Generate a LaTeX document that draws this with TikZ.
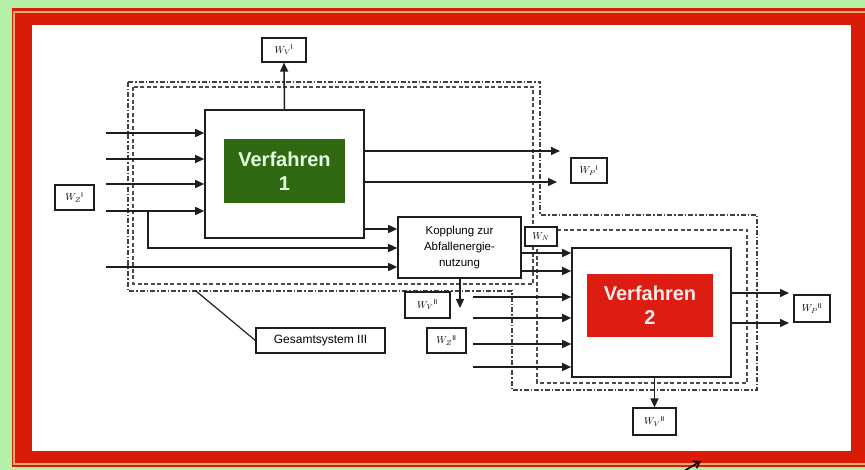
\documentclass[tikz,border=0pt]{standalone}
\usepackage{fontspec}
\setmainfont{Liberation Sans}
\usetikzlibrary{arrows.meta,calc}
\definecolor{bggreen}{HTML}{B4F0A8}
\definecolor{framered}{HTML}{D81C08}
\definecolor{frametan}{HTML}{E8A878}
\definecolor{vgreen}{HTML}{2F6A12}
\definecolor{vred}{HTML}{DD1C12}
\definecolor{linec}{HTML}{1E1E1E}
\tikzset{
  box/.style={draw=linec,line width=1.6pt,fill=white,inner sep=0pt},
  lab/.style={box,line width=1.2pt,font=\fontsize{10}{12}\selectfont},
  arr/.style={draw=linec,line width=1.5pt,-{Triangle[length=9pt,width=8pt]}},
  plain/.style={draw=linec,line width=1.5pt},
  sysdash/.style={draw=linec!80,line width=1.2pt,dash pattern=on 4pt off 2.5pt},
  sysdashdot/.style={draw=linec!85,line width=1.3pt,dash pattern=on 5pt off 2pt on 1.5pt off 2pt},
  vtext/.style={font=\fontsize{20}{24}\selectfont\bfseries,align=center,inner sep=0pt}
}
\begin{document}
\begin{tikzpicture}[x=1pt,y=-1pt]
\useasboundingbox (0,0) rectangle (865,470);
% background and frame
\fill[bggreen] (0,0) rectangle (865,470);
\fill[framered] (12,8) rectangle (865,467);
\draw[frametan,line width=1.2pt] (14,12) rectangle (866,464);
\fill[white] (32,25) rectangle (851,451);

% system boundaries
\draw[sysdash] (133,87) rectangle (533,284);
\draw[sysdash] (537,230) rectangle (747,383);
\draw[sysdashdot] (128,82) -- (540,82) -- (540,215) -- (757,215) -- (757,390)
  -- (512,390) -- (512,291) -- (128,291) -- cycle;
\coordinate (gpt) at (196,291);

% main boxes
\node[box,minimum width=159pt,minimum height=128pt] (v1) at (284.5,174) {};
\node[fill=vgreen,minimum width=121pt,minimum height=64pt,inner sep=0pt] (v1in) at (284.5,171) {};
\node[vtext,text=green!10!white] (v1t) at (284.5,171) {Verfahren\\1};

\node[box,minimum width=123pt,minimum height=61pt,align=center,
  font=\fontsize{11.5}{16}\selectfont] (kop) at (459.5,247.5)
  {Kopplung zur\\Abfallenergie-\\nutzung};

\node[box,minimum width=159pt,minimum height=129pt] (v2) at (651.5,312.5) {};
\node[fill=vred,minimum width=126pt,minimum height=63pt,inner sep=0pt] (v2in) at (650,305.5) {};
\node[vtext,text=red!8!white] (v2t) at (650,305.5) {Verfahren\\2};

% labels
\node[lab,minimum width=44pt,minimum height=24pt] (wv1) at (284,50) {$W_V{}^{\mathrm{I}}$};
\node[lab,minimum width=39pt,minimum height=25pt] (wz1) at (74.5,197.5) {$W_Z{}^{\mathrm{I}}$};
\node[lab,minimum width=36pt,minimum height=25pt] (wp1) at (589,170.5) {$W_P{}^{\mathrm{I}}$};
\node[lab,minimum width=32pt,minimum height=19pt] (wn) at (541,236.5) {$W_N$};
\node[lab,minimum width=45pt,minimum height=26pt] (wv2a) at (427.5,305) {$W_V{}^{\mathrm{II}}$};
\node[lab,minimum width=39pt,minimum height=25pt] (wz2) at (446.5,340.5) {$W_Z{}^{\mathrm{II}}$};
\node[lab,minimum width=36pt,minimum height=27pt] (wp2) at (812,308.5) {$W_P{}^{\mathrm{II}}$};
\node[lab,minimum width=43pt,minimum height=27pt] (wv2b) at (654.5,421.5) {$W_V{}^{\mathrm{II}}$};
\node[lab,minimum width=129pt,minimum height=25pt,font=\fontsize{12}{14}\selectfont] (ges) at (320.5,340.5) {Gesamtsystem III};

% leader line
\draw[plain,line width=1.2pt] (gpt) -- (ges.west);

% Verfahren 1 connectors
\draw[arr] (v1.north) -- (wv1.south);
\foreach \y [count=\i] in {133,159,184,211}{
  \coordinate (in\i) at (106,\y);
  \draw[arr] (in\i) -- (in\i -| v1.west);
}
\coordinate (br) at (148,211);
\coordinate (k2) at (148,248);
\draw[arr] (br) -- (k2) -- (k2 -| kop.west);
\coordinate (in5) at (106,267);
\draw[arr] (in5) -- (in5 -| kop.west);
\coordinate (k1) at (364,229);
\draw[arr] (k1) -- (k1 -| kop.west);
\coordinate (o1) at (560,151);
\coordinate (o2) at (557,182);
\draw[arr] (o1 -| v1.east) -- (o1);
\draw[arr] (o2 -| v1.east) -- (o2);

% Kopplung connectors
\coordinate (kv1) at (521,253);
\coordinate (kv2) at (521,271);
\draw[arr] (kv1) -- (kv1 -| v2.west);
\draw[arr] (kv2) -- (kv2 -| v2.west);
\coordinate (kd) at (460,308);
\draw[arr] (kop.south -| kd) -- (kd);

% Verfahren 2 connectors
\foreach \y [count=\i] in {297,318,344,367}{
  \coordinate (j\i) at (473,\y);
  \draw[arr] (j\i) -- (j\i -| v2.west);
}
\coordinate (p1) at (789,293);
\coordinate (p2) at (789,323);
\draw[arr] (p1 -| v2.east) -- (p1);
\draw[arr] (p2 -| v2.east) -- (p2);
\draw[arr] (v2.south -| wv2b) -- (wv2b.north);

% cursor arrow at bottom
\coordinate (c0) at (684,471);
\coordinate (c1) at (701,461);
\draw[black,line width=1.6pt,-{Straight Barb[length=6pt,width=8pt]}] (c0) -- (c1);
\end{tikzpicture}
\end{document}
